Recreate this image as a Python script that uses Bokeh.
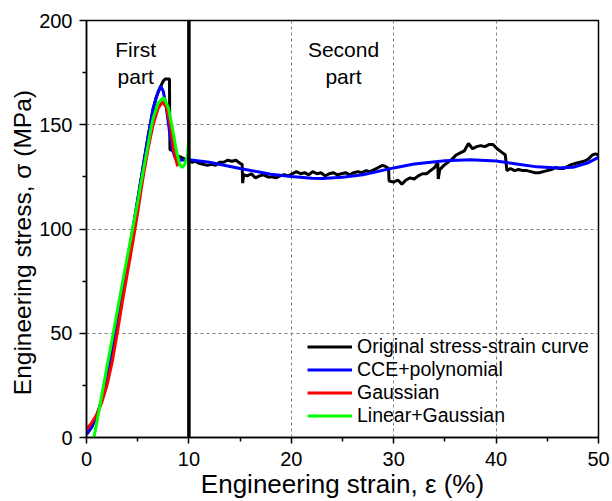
from bokeh.plotting import figure
from bokeh.models import Range1d, FixedTicker, Span, Label, Legend, LegendItem
from bokeh.embed import file_html
from bokeh.resources import INLINE

# ---------------- data ----------------
orig_strain = [0, 0.5, 1.0, 1.5, 2.0, 2.5, 3.0, 3.5, 4.0, 4.5, 5.0, 5.5, 6.0, 6.5, 6.8, 7.2, 7.5, 7.7, 8.0, 8.1,
               8.15, 8.6, 8.75, 9.2, 9.6, 10.0, 10.3, 10.6, 11.0, 11.4, 11.8, 12.2, 12.6, 13.0, 13.4, 13.8,
               14.2, 14.6, 15.0, 15.2, 15.25, 15.35, 15.7, 16.1, 16.5, 16.9, 17.3, 17.7, 18.1, 18.5, 18.9,
               19.3, 19.7, 20.1, 20.5, 20.9, 21.3, 21.7, 22.1, 22.5, 22.9, 23.3, 23.7, 24.1, 24.5, 24.9,
               25.3, 25.7, 26.1, 26.5, 26.9, 27.3, 27.7, 28.1, 28.5, 28.9, 29.2, 29.5, 29.55, 30.0, 30.4,
               30.8, 31.2, 31.6, 32.0, 32.4, 32.8, 33.2, 33.6, 34.0, 34.3, 34.35, 34.5, 34.9, 35.3, 35.7,
               36.1, 36.5, 36.9, 37.3, 37.7, 38.1, 38.5, 38.9, 39.3, 39.7, 40.1, 40.5, 40.9, 41.05, 41.4,
               41.8, 42.2, 42.6, 43.0, 43.4, 43.8, 44.2, 44.6, 45.0, 45.4, 45.8, 46.2, 46.6, 47.0, 47.4,
               47.8, 48.2, 48.6, 49.0, 49.4, 49.7, 50.0]
orig_stress = [1.5, 5, 10.5, 18, 28, 40, 54, 69, 84, 99, 114, 129, 144, 157, 163, 168, 171, 172, 172, 172,
               138, 137.5, 135, 134.5, 133.5, 133, 132, 132.5, 131.5, 131, 130.5, 131, 130.5, 132, 132, 133,
               132.5, 133, 131.5, 131, 122, 126, 125.5, 126.5, 124.5, 125.5, 126, 125, 125, 124.5, 125.5,
               126, 125.5, 126.5, 127.5, 126.5, 127, 126, 127.5, 126.5, 127, 125.5, 126.5, 127, 126, 126.5,
               127, 126, 127, 127.5, 127, 128, 127.5, 128.5, 129.5, 130.5, 130, 129, 123, 122.5, 123.5,
               121.5, 123.5, 124.5, 124, 125.5, 126.5, 126.5, 128, 129.5, 132, 124, 128.5, 130.5, 132, 133.5,
               135.5, 136.5, 137.5, 141, 138.5, 139.5, 140, 139.5, 140.5, 140.5, 138.5, 137, 135.5, 128, 129,
               128, 128.5, 128, 128, 127.5, 127, 127, 127.5, 128, 128.5, 129.5, 129, 129, 130, 131,
               131.5, 132, 132.5, 133.5, 135.5, 136, 135.5]

cce_strain = [0, 0.5, 1.0, 1.5, 2.0, 2.5, 3.0, 3.5, 4.0, 4.5, 5.0, 5.5, 6.0, 6.5, 7.0, 7.25, 7.5, 7.8, 8.1,
              8.4, 8.7, 9.0, 10.0, 12.0, 15.0, 18.0, 20.0, 22.0, 23.0, 25.0, 27.0, 30.0, 32.0, 35.0, 37.5,
              40.0, 42.0, 44.0, 46.0, 47.5, 49.0, 50.0]
cce_stress = [1.5, 5, 10.5, 18, 28, 40, 54, 69, 84, 99, 114, 129, 144, 158, 166, 168.5, 166, 158, 147,
              138, 133.5, 133, 133.2, 132, 129, 126.3, 125.2, 124.3, 124.2, 124.8, 126, 129.3, 131.2, 132.7,
              133.2, 132.6, 131.2, 129.8, 129.2, 129.6, 131.8, 134.4]

gauss_strain = [0, 0.5, 1.0, 1.5, 2.0, 2.5, 3.0, 3.5, 4.0, 4.5, 5.0, 5.5, 6.0, 6.5, 7.0, 7.4, 7.8, 8.2, 8.5, 8.9]
gauss_stress = [4, 7, 11, 17, 25, 36, 50, 65, 79, 93, 108, 124, 138, 150, 158, 161, 158.5, 149, 138, 130]

lin_strain = [0.72, 1.0, 1.5, 2.0, 2.5, 3.0, 3.5, 4.0, 4.5, 5.0, 5.5, 6.0, 6.25, 6.5, 7.0, 7.55, 8.0, 8.4,
              8.8, 9.1, 9.35, 9.6, 9.85, 10.0]
lin_stress = [0, 7, 20.5, 34, 47, 60.5, 74, 87, 100, 113, 127, 140, 147, 153, 160.5, 163, 158, 148,
              137, 131, 129.5, 131, 135, 143]

x_ticks = [0, 10, 20, 30, 40, 50]
x_minor = [5, 15, 25, 35, 45]
y_ticks = [0, 50, 100, 150, 200]
y_minor = [25, 75, 125, 175]

series_names = ["Original stress-strain curve", "CCE+polynomial", "Gaussian", "Linear+Gaussian"]
series_colors = ["#000000", "#0000FF", "#FF0000", "#00FF00"]

FONT = "Liberation Sans"
NB = "\u00a0"

p = figure(width=612, height=501, x_range=Range1d(0, 50), y_range=Range1d(0, 200),
           output_backend="svg", toolbar_location=None)
p.min_border_left = 86
p.min_border_right = 14
p.min_border_top = 20
p.min_border_bottom = 64
p.background_fill_color = "white"
p.border_fill_color = "white"
p.outline_line_color = "black"
p.outline_line_width = 1.5

for ax, tk, mn in ((p.xaxis, x_ticks, x_minor), (p.yaxis, y_ticks, y_minor)):
    ax.ticker = FixedTicker(ticks=tk, minor_ticks=mn)
    ax.axis_line_color = "black"
    ax.axis_line_width = 1.5
    ax.major_tick_line_color = "black"
    ax.major_tick_line_width = 1.5
    ax.minor_tick_line_color = "black"
    ax.minor_tick_line_width = 1.5
    ax.major_tick_in = 0
    ax.minor_tick_in = 0
    ax.major_tick_out = 6
    ax.minor_tick_out = 4
    ax.major_label_text_font = FONT
    ax.major_label_text_font_size = "20px"
    ax.major_label_text_color = "black"
    ax.axis_label_text_font = FONT
    ax.axis_label_text_font_style = "normal"
    ax.axis_label_text_color = "black"

p.xaxis.axis_label = "Engineering strain, \u03b5 (%)"
p.yaxis.axis_label = "Engineering stress, \u03c3 (MPa)" + NB * 4
p.xaxis.axis_label_text_font_size = "26px"
p.yaxis.axis_label_text_font_size = "24.5px"
p.xaxis.major_label_standoff = 8
p.yaxis.major_tick_out = 7
p.yaxis.major_label_standoff = 7
p.xaxis.axis_label_standoff = 0
p.yaxis.axis_label_standoff = 0

for g in (p.xgrid, p.ygrid):
    g.grid_line_color = "#808080"
    g.grid_line_dash = "3 3"
    g.grid_line_width = 1
p.xgrid.ticker = FixedTicker(ticks=x_ticks)
p.ygrid.ticker = FixedTicker(ticks=y_ticks)

LW = 3
r_orig = p.line(orig_strain, orig_stress, line_color=series_colors[0], line_width=LW)
r_cce = p.line(cce_strain, cce_stress, line_color=series_colors[1], line_width=LW)
r_gau = p.line(gauss_strain, gauss_stress, line_color=series_colors[2], line_width=LW)
r_lin = p.line(lin_strain, lin_stress, line_color=series_colors[3], line_width=LW)

p.add_layout(Span(location=10, dimension="height", line_color="black", line_width=3.5))

for txt, xx, yy in (("First", 4.8, 186.1), ("part", 4.8, 173.1), ("Second", 25.1, 186.1), ("part", 25.1, 173.1)):
    p.add_layout(Label(x=xx, y=yy, text=txt, text_align="center", text_baseline="alphabetic",
                       text_font=FONT, text_font_size="21px", text_color="black"))

legend = Legend(items=[LegendItem(label=n, renderers=[r]) for n, r in
                       zip(series_names, [r_orig, r_cce, r_gau, r_lin])],
                location=(221, 10), padding=0, margin=0, spacing=0,
                glyph_width=45, glyph_height=23, label_height=23, label_standoff=5,
                label_text_font=FONT, label_text_font_size="19.5px", label_text_color="black",
                label_text_baseline="middle",
                background_fill_alpha=0, border_line_alpha=0)
p.add_layout(legend)

open("out.html", "w").write(file_html(p, INLINE))
